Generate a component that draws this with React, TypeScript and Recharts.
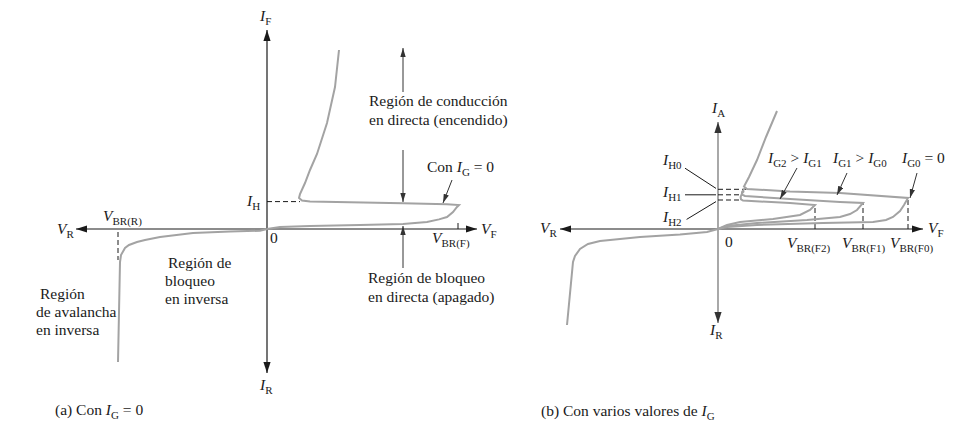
import { ComposedChart, Line, Scatter, XAxis, YAxis } from "recharts";

// Panel (a): SCR characteristic with IG = 0  (arbitrary units, v = voltage, i = current)
const curveAForward = [
  { v: 0, i: 0 }, { v: 0.65, i: 0.1 }, { v: 2.15, i: 0.15 }, { v: 4.65, i: 0.2 },
  { v: 6.8, i: 0.25 }, { v: 8.0, i: 0.35 }, { v: 8.6, i: 0.48 }, { v: 9.0, i: 0.6 },
  { v: 9.3, i: 0.85 }, { v: 9.5, i: 1.1 }, { v: 9.6, i: 1.2 }, { v: 9.0, i: 1.24 },
  { v: 6.8, i: 1.29 }, { v: 2.15, i: 1.37 }, { v: 1.75, i: 1.42 }, { v: 1.6, i: 1.55 },
  { v: 1.65, i: 1.75 }, { v: 1.9, i: 2.3 }, { v: 2.15, i: 2.95 }, { v: 2.5, i: 3.75 },
  { v: 3.0, i: 5.3 }, { v: 3.4, i: 7.1 }, { v: 3.6, i: 8.95 },
];
const curveAReverse = [
  { v: 0, i: 0 }, { v: -0.35, i: -0.085 }, { v: -1.85, i: -0.13 }, { v: -3.7, i: -0.2 },
  { v: -5.35, i: -0.4 }, { v: -6.1, i: -0.55 }, { v: -6.5, i: -0.65 }, { v: -6.9, i: -0.8 },
  { v: -7.1, i: -0.95 }, { v: -7.3, i: -1.3 }, { v: -7.35, i: -1.65 }, { v: -7.45, i: -6.65 },
];
const axisAX = [{ v: -9.55, i: 0 }, { v: 10.5, i: 0 }];
const axisAY = [{ v: 0, i: -7.2 }, { v: 0, i: 9.95 }];
const dashAH = [{ v: 0, i: 1.37 }, { v: 1.65, i: 1.37 }];
const dashABR = [{ v: -7.45, i: -0.15 }, { v: -7.45, i: -1.55 }];
const tickABF = [{ v: 9.55, i: 0 }, { v: 9.55, i: 0.3 }];
const arrowsA = [
  [{ v: 6.8, i: 6.85 }, { v: 6.8, i: 9.05 }],
  [{ v: 6.8, i: 3.95 }, { v: 6.8, i: 1.35 }],
  [{ v: 6.8, i: -1.95 }, { v: 6.8, i: 0.15 }],
  [{ v: 9.25, i: 2.45 }, { v: 8.8, i: 1.3 }],
];
const labelsA = [
  { v: -0.35, i: 10.4, t: "I_{F}" },
  { v: 5.1, i: 6.15, t: "Región de conducción" },
  { v: 5.1, i: 5.2, t: "en directa (encendido)" },
  { v: 8.0, i: 2.85, t: "Con I_{G} = 0" },
  { v: -1.0, i: 1.15, t: "I_{H}" },
  { v: -8.2, i: 0.4, t: "V_{BR(R)}" },
  { v: -10.5, i: -0.25, t: "V_{R}" },
  { v: 10.7, i: -0.25, t: "V_{F}" },
  { v: 0.15, i: -0.7, t: "0" },
  { v: 8.25, i: -0.7, t: "V_{BR(F)}" },
  { v: 5.05, i: -2.7, t: "Región de bloqueo" },
  { v: 5.05, i: -3.65, t: "en directa (apagado)" },
  { v: -4.95, i: -1.95, t: "Región de" },
  { v: -5.1, i: -2.85, t: "bloqueo" },
  { v: -5.1, i: -3.75, t: "en inversa" },
  { v: -11.35, i: -3.5, t: "Región" },
  { v: -11.55, i: -4.4, t: "de avalancha" },
  { v: -11.55, i: -5.3, t: "en inversa" },
  { v: -0.35, i: -8.05, t: "I_{R}" },
  { v: -10.6, i: -9.3, t: "(a) Con I_{G} = 0" },
];

// Panel (b): several gate currents
const curveBReverse = [
  { v: 0, i: 0 }, { v: -0.55, i: -0.15 }, { v: -1.9, i: -0.28 }, { v: -3.9, i: -0.4 },
  { v: -5.4, i: -0.55 }, { v: -5.9, i: -0.6 }, { v: -6.5, i: -0.75 }, { v: -6.9, i: -1.0 },
  { v: -7.15, i: -1.35 }, { v: -7.25, i: -1.65 }, { v: -7.55, i: -4.8 },
];
const curveBG0 = [
  { v: 0, i: 0 }, { v: 0.45, i: 0.1 }, { v: 1.95, i: 0.2 }, { v: 5.25, i: 0.3 },
  { v: 7.75, i: 0.35 }, { v: 8.4, i: 0.45 }, { v: 8.75, i: 0.6 }, { v: 9.1, i: 0.9 },
  { v: 9.3, i: 1.2 }, { v: 9.5, i: 1.55 }, { v: 6.1, i: 1.8 }, { v: 3.6, i: 1.88 },
  { v: 1.45, i: 2.0 }, { v: 1.3, i: 2.12 }, { v: 1.55, i: 2.6 }, { v: 1.95, i: 3.45 },
  { v: 2.4, i: 4.6 }, { v: 2.95, i: 5.9 },
];
const curveBG1 = [
  { v: 0, i: 0 }, { v: 0.45, i: 0.15 }, { v: 1.95, i: 0.3 }, { v: 4.45, i: 0.45 },
  { v: 6.1, i: 0.6 }, { v: 6.6, i: 0.75 }, { v: 6.95, i: 0.95 }, { v: 7.25, i: 1.3 },
  { v: 6.1, i: 1.35 }, { v: 3.6, i: 1.5 }, { v: 1.35, i: 1.65 }, { v: 1.2, i: 1.72 },
  { v: 1.2, i: 1.85 }, { v: 1.35, i: 2.05 },
];
const curveBG2 = [
  { v: 0, i: 0 }, { v: 0.45, i: 0.2 }, { v: 1.1, i: 0.35 }, { v: 2.75, i: 0.5 },
  { v: 4.1, i: 0.7 }, { v: 4.6, i: 0.95 }, { v: 4.85, i: 1.2 }, { v: 3.6, i: 1.3 },
  { v: 1.25, i: 1.42 }, { v: 1.15, i: 1.48 }, { v: 1.13, i: 1.6 }, { v: 1.2, i: 1.78 },
  { v: 1.3, i: 1.9 },
];
const axisBX = [{ v: -7.9, i: 0 }, { v: 10.25, i: 0 }];
const axisBY = [{ v: 0, i: -4.7 }, { v: 0, i: 5.35 }];
const dashesB = [
  [{ v: 0, i: 1.985 }, { v: 1.4, i: 1.985 }],
  [{ v: 0, i: 1.71 }, { v: 1.2, i: 1.71 }],
  [{ v: 0, i: 1.45 }, { v: 1.13, i: 1.45 }],
  [{ v: 4.85, i: 0 }, { v: 4.85, i: 1.2 }],
  [{ v: 7.25, i: 0 }, { v: 7.25, i: 1.3 }],
  [{ v: 9.5, i: 0 }, { v: 9.5, i: 1.55 }],
];
const pointersB = [
  [{ v: -1.65, i: 3.04 }, { v: -0.1, i: 2.03 }],
  [{ v: -1.65, i: 1.71 }, { v: -0.1, i: 1.71 }],
  [{ v: -1.57, i: 0.48 }, { v: -0.1, i: 1.37 }],
];
const arrowsB = [
  [{ v: 3.95, i: 3.05 }, { v: 3.1, i: 1.5 }],
  [{ v: 6.45, i: 2.8 }, { v: 5.95, i: 1.7 }],
  [{ v: 9.95, i: 2.8 }, { v: 9.6, i: 1.55 }],
];
const labelsB = [
  { v: -0.3, i: 5.8, t: "I_{A}" },
  { v: -2.75, i: 3.2, t: "I_{H0}" },
  { v: -2.75, i: 1.6, t: "I_{H1}" },
  { v: -2.75, i: 0.35, t: "I_{H2}" },
  { v: 2.5, i: 3.3, t: "I_{G2} > I_{G1}" },
  { v: 5.75, i: 3.3, t: "I_{G1} > I_{G0}" },
  { v: 9.2, i: 3.3, t: "I_{G0} = 0" },
  { v: -8.9, i: -0.2, t: "V_{R}" },
  { v: 10.5, i: -0.2, t: "V_{F}" },
  { v: 0.35, i: -0.9, t: "0" },
  { v: 3.45, i: -0.95, t: "V_{BR(F2)}" },
  { v: 6.2, i: -0.95, t: "V_{BR(F1)}" },
  { v: 8.6, i: -0.95, t: "V_{BR(F0)}" },
  { v: -0.4, i: -5.3, t: "I_{R}" },
  { v: -8.85, i: -9.35, t: "(b) Con varios valores de I_{G}" },
];

const FONT = "'Liberation Serif', 'Times New Roman', Tinos, 'DejaVu Serif', serif";
const CURVE = "#a3a3a3";
const INK = "#1a1a1a";

const renderText = (s: string) => {
  const bits = s.split(/([IV])_\{([^}]*)\}/);
  const out: any[] = [];
  let low = false;
  bits.forEach((b, k) => {
    const kind = k % 3;
    if (kind === 0) {
      if (b === "") return;
      out.push(<tspan key={k} dy={low ? -4 : 0}>{b}</tspan>);
      low = false;
    } else if (kind === 1) {
      out.push(<tspan key={k} dy={low ? -4 : 0} fontStyle="italic">{b}</tspan>);
      low = false;
    } else {
      out.push(<tspan key={k} dy={4} fontSize={11}>{b}</tspan>);
      low = true;
    }
  });
  return out;
};

const LabelShape = (props: any) => {
  const { cx, cy, payload } = props;
  return (
    <text x={cx} y={cy} fontSize={15.5} fill={INK} style={{ whiteSpace: "pre", fontFamily: FONT }}>
      {renderText(payload.t)}
    </text>
  );
};

const seg = (data: any[], id: string, key: string, extra: any) => (
  <Line
    key={key}
    data={data}
    xAxisId={id}
    dataKey="i"
    type="linear"
    dot={false}
    activeDot={false}
    isAnimationActive={false}
    {...extra}
  />
);

export default function App() {
  return (
    <div style={{ position: "absolute", left: 0, top: 0, width: 958, height: 429, background: "#fff", fontFamily: FONT }}>
      <svg width={0} height={0} style={{ position: "absolute" }}>
        <defs>
          <marker id="axArrow" viewBox="0 0 10 10" refX={10} refY={5} markerWidth={11} markerHeight={8}
            markerUnits="userSpaceOnUse" orient="auto-start-reverse" preserveAspectRatio="none">
            <path d="M0,0.5 L10,5 L0,9.5 z" fill={INK} />
          </marker>
          <marker id="axArrowGray" viewBox="0 0 10 10" refX={10} refY={5} markerWidth={11} markerHeight={8}
            markerUnits="userSpaceOnUse" orient="auto-start-reverse" preserveAspectRatio="none">
            <path d="M0,0.5 L10,5 L0,9.5 z" fill="#333" />
          </marker>
          <marker id="ptArrow" viewBox="0 0 10 10" refX={10} refY={5} markerWidth={9} markerHeight={6}
            markerUnits="userSpaceOnUse" orient="auto" preserveAspectRatio="none">
            <path d="M0,0.5 L10,5 L0,9.5 z" fill="#333" />
          </marker>
        </defs>
      </svg>
      <ComposedChart width={958} height={429} margin={{ top: 0, right: 0, bottom: 0, left: 0 }}>
        <XAxis xAxisId="a" type="number" dataKey="v" domain={[-13.35, 34.55]} hide allowDataOverflow />
        <XAxis xAxisId="b" type="number" dataKey="v" domain={[-35.9, 12]} hide allowDataOverflow />
        <YAxis type="number" dataKey="i" domain={[-10, 11.45]} hide allowDataOverflow />

        {seg(axisAX, "a", "axAX", { stroke: INK, strokeWidth: 1.2, markerStart: "url(#axArrow)", markerEnd: "url(#axArrow)" })}
        {seg(axisAY, "a", "axAY", { stroke: INK, strokeWidth: 1.2, markerStart: "url(#axArrow)", markerEnd: "url(#axArrow)" })}
        {seg(axisBX, "b", "axBX", { stroke: INK, strokeWidth: 1.2, markerStart: "url(#axArrow)", markerEnd: "url(#axArrow)" })}
        {seg(axisBY, "b", "axBY", { stroke: "#7a7a7a", strokeWidth: 1.3, markerStart: "url(#axArrowGray)", markerEnd: "url(#axArrowGray)" })}

        {seg(dashAH, "a", "dAH", { stroke: INK, strokeWidth: 1, strokeDasharray: "5 3" })}
        {seg(dashABR, "a", "dABR", { stroke: INK, strokeWidth: 1, strokeDasharray: "5 3" })}
        {seg(tickABF, "a", "tABF", { stroke: INK, strokeWidth: 1 })}
        {dashesB.map((d, k) => seg(d, "b", `dB${k}`, { stroke: INK, strokeWidth: 1, strokeDasharray: "5 3" }))}

        {seg(curveAForward, "a", "cAF", { stroke: CURVE, strokeWidth: 2 })}
        {seg(curveAReverse, "a", "cAR", { stroke: CURVE, strokeWidth: 2 })}
        {seg(curveBReverse, "b", "cBR", { stroke: CURVE, strokeWidth: 2 })}
        {seg(curveBG2, "b", "cB2", { stroke: CURVE, strokeWidth: 2 })}
        {seg(curveBG1, "b", "cB1", { stroke: CURVE, strokeWidth: 2 })}
        {seg(curveBG0, "b", "cB0", { stroke: CURVE, strokeWidth: 2 })}

        {arrowsA.map((d, k) => seg(d, "a", `aA${k}`, { stroke: "#333", strokeWidth: 1, markerEnd: "url(#ptArrow)" }))}
        {arrowsB.map((d, k) => seg(d, "b", `aB${k}`, { stroke: "#333", strokeWidth: 1, markerEnd: "url(#ptArrow)" }))}
        {pointersB.map((d, k) => seg(d, "b", `pB${k}`, { stroke: INK, strokeWidth: 1 }))}

        <Scatter data={labelsA} xAxisId="a" dataKey="i" shape={LabelShape} isAnimationActive={false} />
        <Scatter data={labelsB} xAxisId="b" dataKey="i" shape={LabelShape} isAnimationActive={false} />
      </ComposedChart>
    </div>
  );
}
